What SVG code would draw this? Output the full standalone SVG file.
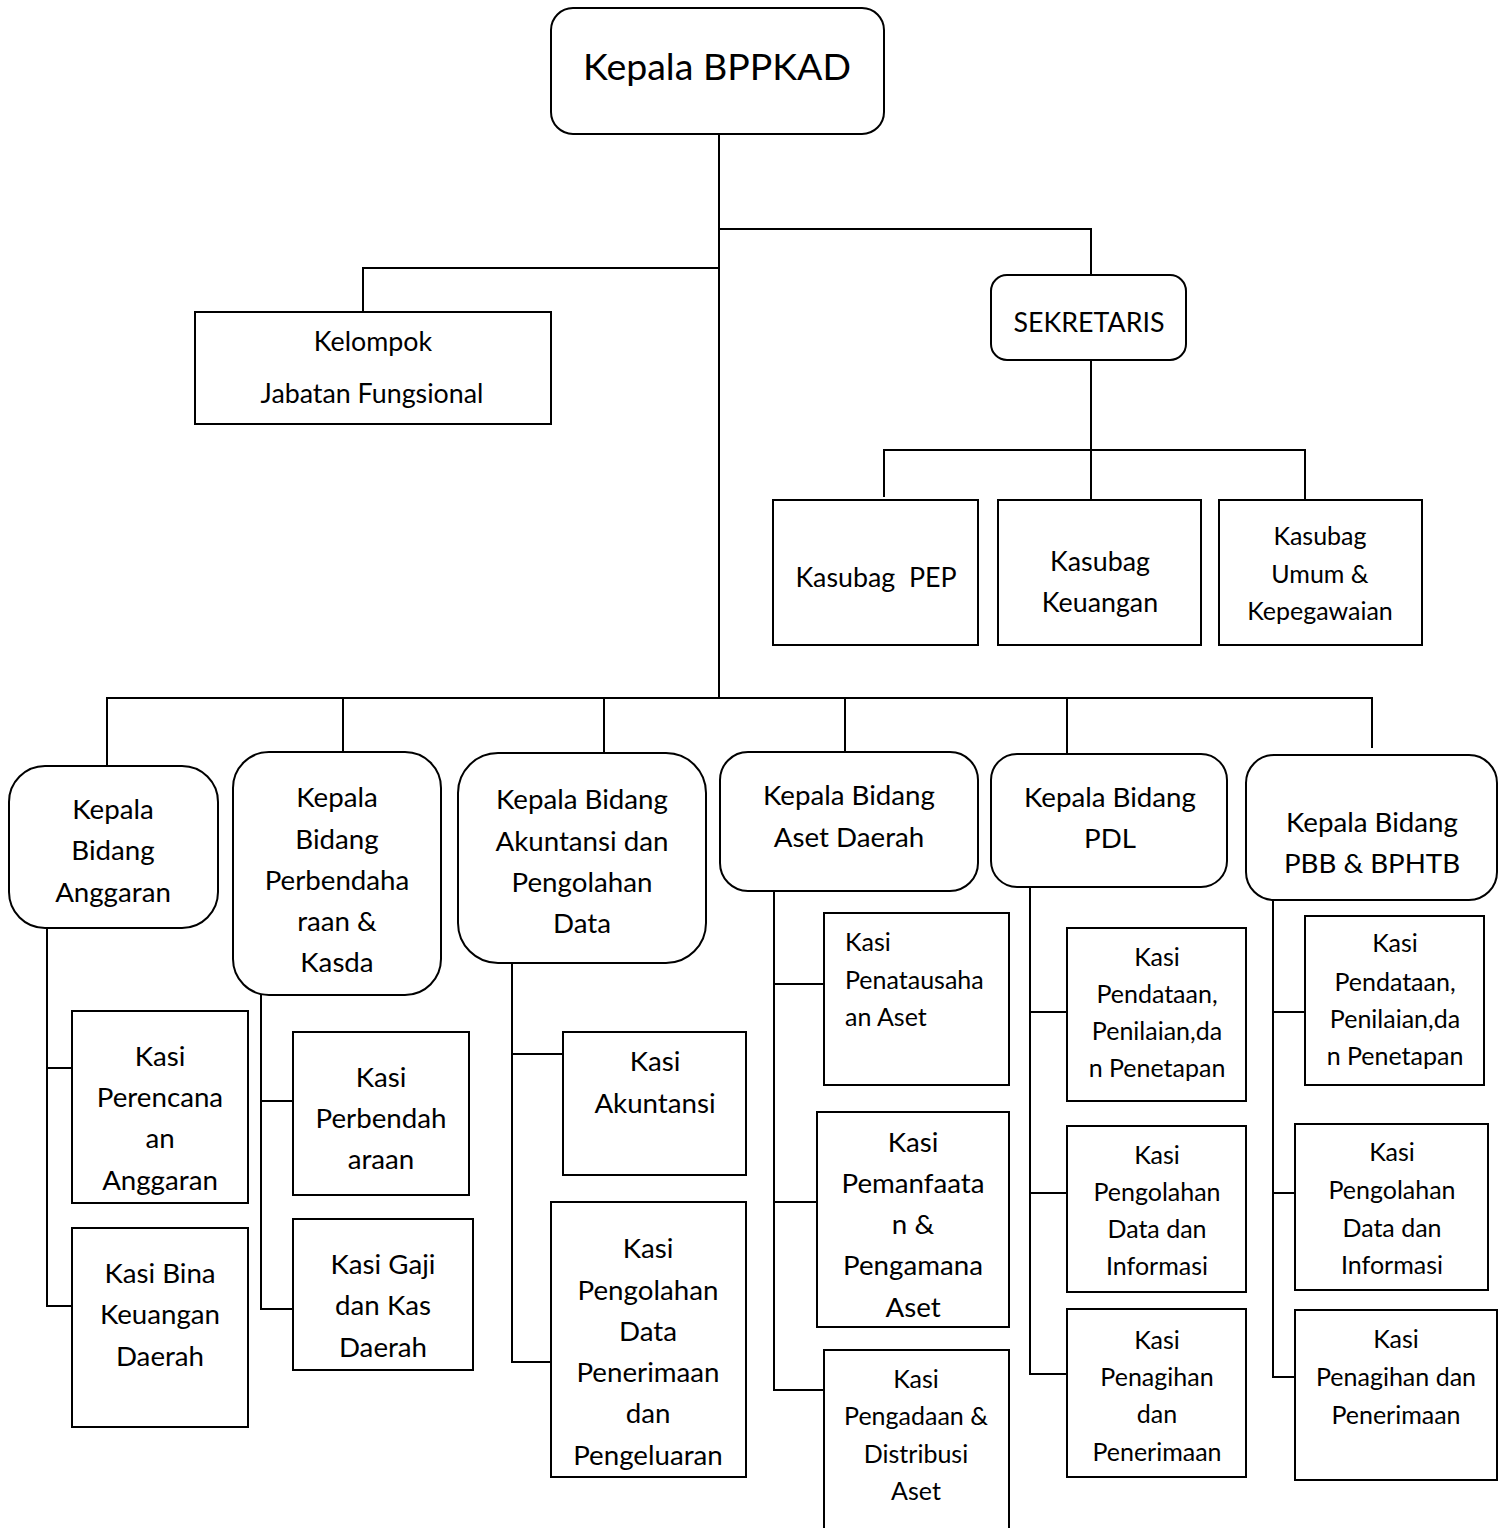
<svg xmlns="http://www.w3.org/2000/svg" width="1506" height="1528" viewBox="0 0 1506 1528">
<style>
.b{fill:#fff;stroke:#000;stroke-width:2}
.c{fill:none;stroke:#000;stroke-width:2}
text{font-family:Lato,"Open Sans","Liberation Sans",sans-serif;fill:#000;text-anchor:middle}
.t36{font-size:37.5px}
.t26{font-size:27.7px}
.t24{font-size:26.8px}
.t22{font-size:25px}
.l{text-anchor:start}
</style>
<rect width="1506" height="1528" fill="#fff"/>
<g id="connectors">
<path class="c" d="M719 134V698"/>
<path class="c" d="M719 229H1091V275"/>
<path class="c" d="M719 268H363V312"/>
<path class="c" d="M1091 360V500"/>
<path class="c" d="M884 497V450H1305V500"/>
<path class="c" d="M107 766V698H1372V748"/>
<path class="c" d="M343 698V752M604 698V753M845 698V752M1067 698V754"/>
<path class="c" d="M47 928V1306H72M47 1068H72"/>
<path class="c" d="M261 995V1309H293M261 1101H293"/>
<path class="c" d="M512 963V1362H551M512 1054H563"/>
<path class="c" d="M774 891V1390H824M774 984H824M774 1202H817"/>
<path class="c" d="M1030 887V1374H1067M1030 1012H1067M1030 1193H1067"/>
<path class="c" d="M1273 900V1377H1295M1273 1012H1305M1273 1193H1294"/>
</g>
<g id="kepala"><rect class="b" x="551" y="8" width="333" height="126" rx="22"/><text class="t36" x="717" y="80">Kepala BPPKAD</text></g>
<g id="kelompok"><rect class="b" x="195" y="312" width="356" height="112"/><text class="t24" x="373" y="351">Kelompok</text><text class="t24" x="372" y="403">Jabatan Fungsional</text></g>
<g id="sekretaris"><rect class="b" x="991" y="275" width="195" height="85" rx="16"/><text class="t24" x="1089" y="332">SEKRETARIS</text></g>
<g id="pep"><rect class="b" x="773" y="500" width="205" height="145"/><text class="t24" x="876" y="587" xml:space="preserve">Kasubag  PEP</text></g>
<g id="keuangan"><rect class="b" x="998" y="500" width="203" height="145"/><text class="t24" x="1100" y="571">Kasubag</text><text class="t24" x="1100" y="612">Keuangan</text></g>
<g id="umum"><rect class="b" x="1219" y="500" width="203" height="145"/><text class="t22" x="1320" y="545">Kasubag</text><text class="t22" x="1320" y="583">Umum &amp;</text><text class="t22" x="1320" y="620">Kepegawaian</text></g>

<g id="bid-anggaran"><rect class="b" x="9" y="766" width="209" height="162" rx="36"/><text class="t26" x="113" y="819">Kepala</text><text class="t26" x="113" y="860">Bidang</text><text class="t26" x="113" y="902">Anggaran</text></g>
<g id="bid-perbendaharaan"><rect class="b" x="233" y="752" width="208" height="243" rx="36"/><text class="t26" x="337" y="807">Kepala</text><text class="t26" x="337" y="849">Bidang</text><text class="t26" x="337" y="890">Perbendaha</text><text class="t26" x="337" y="931">raan &amp;</text><text class="t26" x="337" y="972">Kasda</text></g>
<g id="bid-akuntansi"><rect class="b" x="458" y="753" width="248" height="210" rx="40"/><text class="t26" x="582" y="809">Kepala Bidang</text><text class="t26" x="582" y="851">Akuntansi dan</text><text class="t26" x="582" y="892">Pengolahan</text><text class="t26" x="582" y="933">Data</text></g>
<g id="bid-aset"><rect class="b" x="720" y="752" width="258" height="139" rx="28"/><text class="t26" x="849" y="805">Kepala Bidang</text><text class="t26" x="849" y="847">Aset Daerah</text></g>
<g id="bid-pdl"><rect class="b" x="991" y="754" width="236" height="133" rx="26"/><text class="t26" x="1110" y="807">Kepala Bidang</text><text class="t26" x="1110" y="848">PDL</text></g>
<g id="bid-pbb"><rect class="b" x="1246" y="755" width="251" height="145" rx="28"/><text class="t26" x="1372" y="832">Kepala Bidang</text><text class="t26" x="1372" y="873">PBB &amp; BPHTB</text></g>

<g id="kasi-perencanaan"><rect class="b" x="72" y="1011" width="176" height="192"/><text class="t26" x="160" y="1066">Kasi</text><text class="t26" x="160" y="1107">Perencana</text><text class="t26" x="160" y="1148">an</text><text class="t26" x="160" y="1190">Anggaran</text></g>
<g id="kasi-bina"><rect class="b" x="72" y="1228" width="176" height="199"/><text class="t26" x="160" y="1283">Kasi Bina</text><text class="t26" x="160" y="1324">Keuangan</text><text class="t26" x="160" y="1366">Daerah</text></g>
<g id="kasi-perbendaharaan"><rect class="b" x="293" y="1032" width="176" height="163"/><text class="t26" x="381" y="1087">Kasi</text><text class="t26" x="381" y="1128">Perbendah</text><text class="t26" x="381" y="1169">araan</text></g>
<g id="kasi-gaji"><rect class="b" x="293" y="1219" width="180" height="151"/><text class="t26" x="383" y="1274">Kasi Gaji</text><text class="t26" x="383" y="1315">dan Kas</text><text class="t26" x="383" y="1357">Daerah</text></g>
<g id="kasi-akuntansi"><rect class="b" x="563" y="1032" width="183" height="143"/><text class="t26" x="655" y="1071">Kasi</text><text class="t26" x="655" y="1113">Akuntansi</text></g>
<g id="kasi-pengolahan-data"><rect class="b" x="551" y="1202" width="195" height="275"/><text class="t26" x="648" y="1258">Kasi</text><text class="t26" x="648" y="1300">Pengolahan</text><text class="t26" x="648" y="1341">Data</text><text class="t26" x="648" y="1382">Penerimaan</text><text class="t26" x="648" y="1423">dan</text><text class="t26" x="648" y="1465">Pengeluaran</text></g>

<g id="kasi-penatausahaan"><rect class="b" x="824" y="913" width="185" height="172"/><text class="t22 l" x="845" y="951">Kasi</text><text class="t22 l" x="845" y="989">Penatausaha</text><text class="t22 l" x="845" y="1026">an Aset</text></g>
<g id="kasi-pemanfaatan"><rect class="b" x="817" y="1112" width="192" height="215"/><text class="t26" x="913" y="1152">Kasi</text><text class="t26" x="913" y="1193">Pemanfaata</text><text class="t26" x="913" y="1234">n &amp;</text><text class="t26" x="913" y="1275">Pengamana</text><text class="t26" x="913" y="1317">Aset</text></g>
<g id="kasi-pengadaan"><rect class="b" x="824" y="1350" width="185" height="190"/><text class="t22" x="916" y="1388">Kasi</text><text class="t22" x="916" y="1425">Pengadaan &amp;</text><text class="t22" x="916" y="1463">Distribusi</text><text class="t22" x="916" y="1500">Aset</text></g>

<g id="pdl-pendataan"><rect class="b" x="1067" y="928" width="179" height="173"/><text class="t22" x="1157" y="966">Kasi</text><text class="t22" x="1157" y="1003">Pendataan,</text><text class="t22" x="1157" y="1040">Penilaian,da</text><text class="t22" x="1157" y="1077">n Penetapan</text></g>
<g id="pdl-pengolahan"><rect class="b" x="1067" y="1126" width="179" height="166"/><text class="t22" x="1157" y="1164">Kasi</text><text class="t22" x="1157" y="1201">Pengolahan</text><text class="t22" x="1157" y="1238">Data dan</text><text class="t22" x="1157" y="1275">Informasi</text></g>
<g id="pdl-penagihan"><rect class="b" x="1067" y="1309" width="179" height="168"/><text class="t22" x="1157" y="1349">Kasi</text><text class="t22" x="1157" y="1386">Penagihan</text><text class="t22" x="1157" y="1423">dan</text><text class="t22" x="1157" y="1461">Penerimaan</text></g>

<g id="pbb-pendataan"><rect class="b" x="1305" y="916" width="179" height="169"/><text class="t22" x="1395" y="952">Kasi</text><text class="t22" x="1395" y="991">Pendataan,</text><text class="t22" x="1395" y="1028">Penilaian,da</text><text class="t22" x="1395" y="1065">n Penetapan</text></g>
<g id="pbb-pengolahan"><rect class="b" x="1295" y="1124" width="193" height="166"/><text class="t22" x="1392" y="1161">Kasi</text><text class="t22" x="1392" y="1199">Pengolahan</text><text class="t22" x="1392" y="1237">Data dan</text><text class="t22" x="1392" y="1274">Informasi</text></g>
<g id="pbb-penagihan"><rect class="b" x="1295" y="1310" width="202" height="170"/><text class="t22" x="1396" y="1348">Kasi</text><text class="t22" x="1396" y="1386">Penagihan dan</text><text class="t22" x="1396" y="1424">Penerimaan</text></g>
</svg>
